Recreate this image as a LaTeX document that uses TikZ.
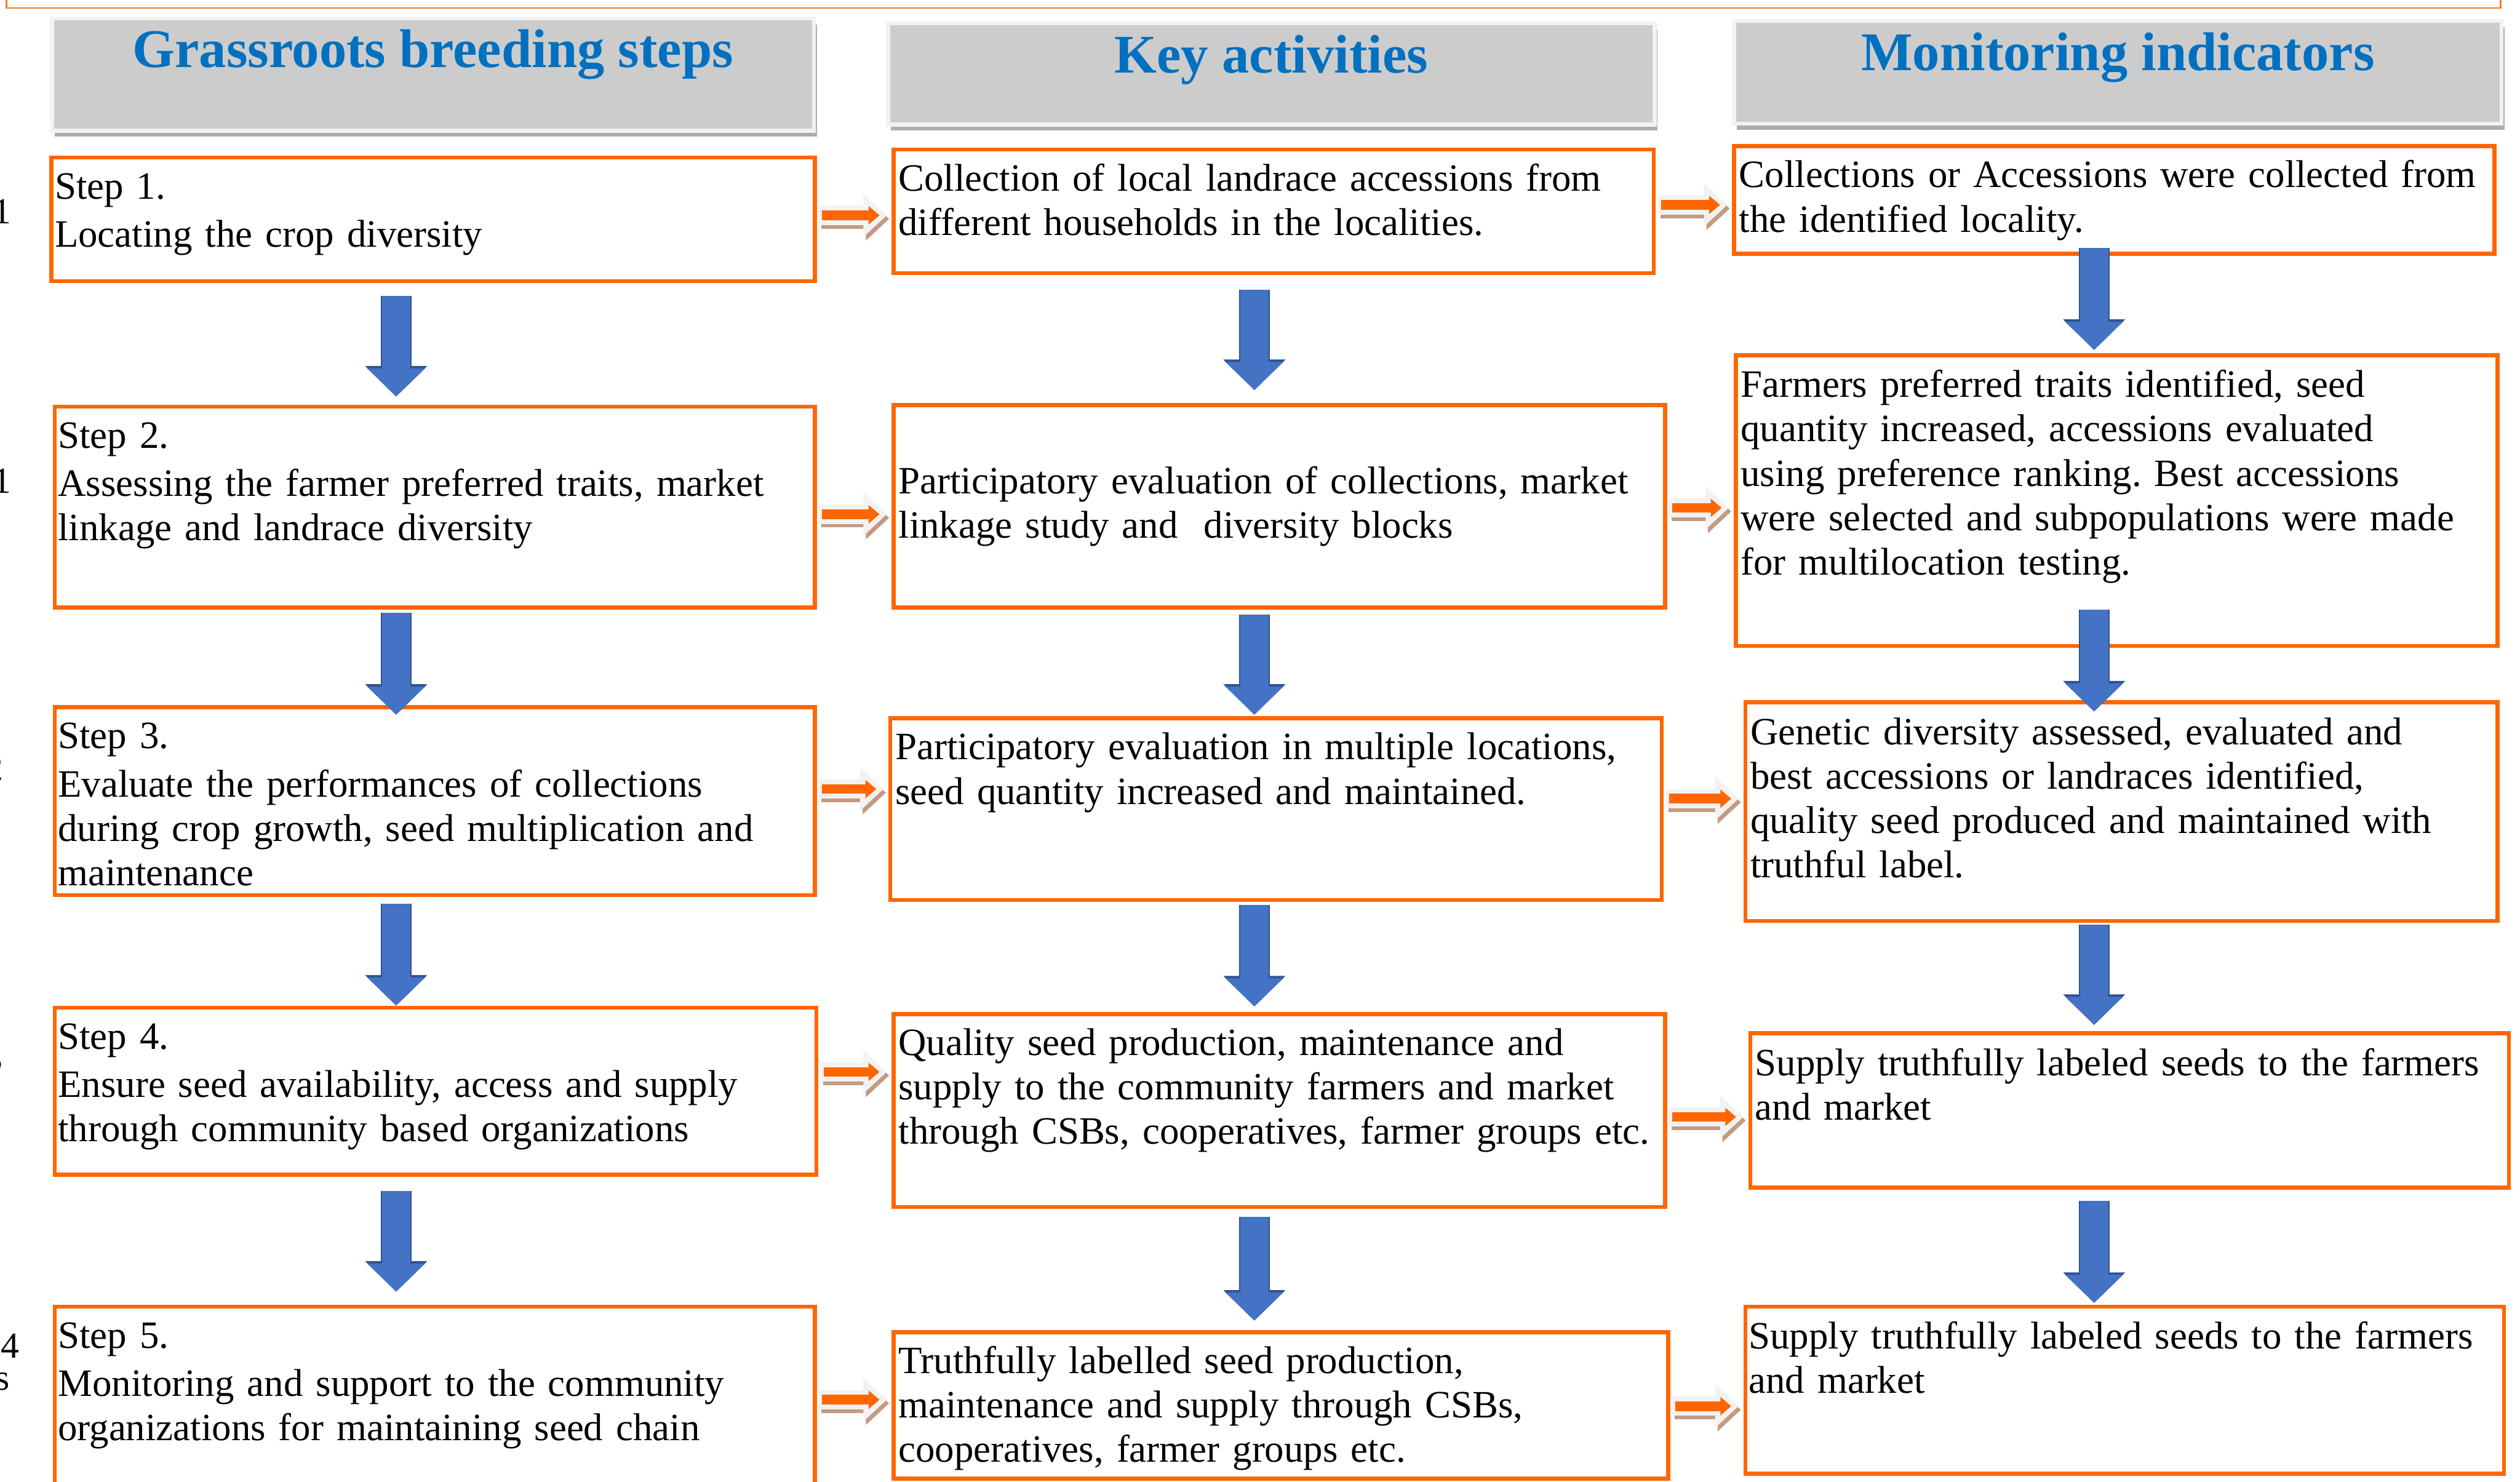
\documentclass[tikz,border=0pt]{standalone}
\usepackage{fontspec}
\setmainfont{Liberation Serif}
\usepackage{xcolor}
\usepackage{tikz}
\usetikzlibrary{arrows.meta,calc,fit}

\definecolor{boxorange}{HTML}{FF6600}
\definecolor{titleorange}{HTML}{ED7D31}
\definecolor{headblue}{HTML}{0070C0}
\definecolor{headgray}{HTML}{CCCCCC}
\definecolor{headrim}{HTML}{F2F2F2}
\definecolor{headshade}{HTML}{ADADAD}
\definecolor{flowblue}{HTML}{4472C4}
\definecolor{flowedge}{HTML}{2F528F}
\definecolor{linkrim}{HTML}{F2F2F2}
\definecolor{linktan}{HTML}{C49A80}

\frenchspacing

\begin{document}
\begin{tikzpicture}[x=0.2mm,y=-0.2mm]

        \tikzstyle{stepbox}=[draw=boxorange,line width=0.5mm,inner sep=0pt]
        \tikzstyle{headbox}=[fill=headgray,draw=headrim,line width=0.5mm,inner sep=0pt,
            preaction={fill=headshade,transform canvas={shift={(0.35mm,-0.75mm)}}}]
        \tikzstyle{headtext}=[anchor=base,inner sep=0pt,text=headblue,
            font=\fontsize{19.3pt}{22pt}\selectfont\bfseries]
        \tikzstyle{boxtext}=[anchor=base west,inner sep=0pt,text width=100mm,align=left,
            font=\fontsize{13.7pt}{15.7pt}\selectfont]
        \tikzstyle{fragtext}=[anchor=base east,inner sep=0pt,font=\fontsize{13pt}{13pt}\selectfont]
        \tikzstyle{flowarrow}=[draw=flowblue,line width=3.5mm,-{Triangle[width=7mm,length=3.5mm]},
            preaction={draw=flowedge,line width=3.8mm,-{Triangle[width=7.5mm,length=3.8mm]}}]
        \tikzstyle{linkarrow}=[draw=boxorange,line width=1.2mm,-{Triangle[width=2.2mm,length=1.35mm]},
            shorten <=0.64mm,shorten >=1.5mm,
            preaction={draw=linktan,line width=2.4mm,-{Triangle[width=5.2mm,length=2.9mm]},
                shorten <=0.28mm,shorten >=0.6mm,transform canvas={shift={(0.3mm,-0.45mm)}}},
            preaction={draw=linkrim,line width=2.4mm,-{Triangle[width=5.2mm,length=2.9mm]},
                shorten <=0.28mm,shorten >=0.6mm}]

        \useasboundingbox (0,0) rectangle (1568,922);
        \fill[white] (0,0) rectangle (1568,922);
        \clip (0,0) rectangle (1568,922);

        %% frame of the heading above (cut off)
        \draw[titleorange,line width=0.2mm] (4,-20) rectangle (1556,5);

        %% column headings
        \node[headbox,fit={(32.3,11.5) (506.5,81.4)}] (head1) {};
        \node[headbox,fit={(552.5,14.5) (1029.5,77.5)}] (head2) {};
        \node[headbox,fit={(1079,13) (1556.5,77)}] (head3) {};
        \node[headtext] at ($(head1.north)+(0,31.5)$) {Grassroots breeding steps};
        \node[headtext] at ($(head2.north)+(0,32)$) {Key activities};
        \node[headtext] at ($(head3.north)+(0,32)$) {Monitoring indicators};

        %% Steps
        \node[stepbox,fit={(32,98) (507,175)}] (step1) {};
        \node[stepbox,fit={(34,253) (507,378)}] (step2) {};
        \node[stepbox,fit={(34,440) (507,557)}] (step3) {};
        \node[stepbox,fit={(34,627) (508,731)}] (step4) {};
        \node[stepbox,fit={(34,813) (507,926)}] (step5) {};

        \node[boxtext] at ($(step1.north west)+(3,27)$) {Step 1.\\[0.5mm]
            Locating the crop diversity};
        \node[boxtext] at ($(step2.north west)+(3,27)$) {Step 2.\\[0.5mm]
            Assessing the farmer preferred traits, market\\
            linkage and landrace diversity};
        \node[boxtext] at ($(step3.north west)+(3,27)$) {Step 3.\\[0.5mm]
            Evaluate the performances of collections\\
            during crop growth, seed multiplication and\\
            maintenance};
        \node[boxtext] at ($(step4.north west)+(3,27)$) {Step 4.\\[0.5mm]
            Ensure seed availability, access and supply\\
            through community based organizations};
        \node[boxtext] at ($(step5.north west)+(3,27)$) {Step 5.\\[0.5mm]
            Monitoring and support to the community\\
            organizations for maintaining seed chain};

        %% Key activities
        \node[stepbox,fit={(556,93) (1029,170)}] (act1) {};
        \node[stepbox,fit={(556,252) (1036,378)}] (act2) {};
        \node[stepbox,fit={(554,447) (1034,560)}] (act3) {};
        \node[stepbox,fit={(556,631) (1036,751)}] (act4) {};
        \node[stepbox,fit={(556,829) (1038,920)}] (act5) {};

        \node[boxtext] at ($(act1.north west)+(4,27)$) {Collection of local landrace accessions from\\
            different households in the localities.};
        \node[boxtext] at ($(act2.north west)+(4,56.5)$) {Participatory evaluation of collections, market\\
            linkage study and \ diversity blocks};
        \node[boxtext] at ($(act3.north west)+(4,27)$) {Participatory evaluation in multiple locations,\\
            seed quantity increased and maintained.};
        \node[boxtext] at ($(act4.north west)+(4,27)$) {Quality seed production, maintenance and\\
            supply to the community farmers and market\\
            through CSBs, cooperatives, farmer groups etc.};
        \node[boxtext] at ($(act5.north west)+(4,27)$) {Truthfully labelled seed production,\\
            maintenance and supply through CSBs,\\
            cooperatives, farmer groups etc.};

        %% Monitoring indicators
        \node[stepbox,fit={(1079,91) (1552,158)}] (ind1) {};
        \node[stepbox,fit={(1080,221) (1554,402)}] (ind2) {};
        \node[stepbox,fit={(1086,437) (1554,573)}] (ind3) {};
        \node[stepbox,fit={(1089,643) (1561,739)}] (ind4) {};
        \node[stepbox,fit={(1086,813) (1558,917)}] (ind5) {};

        \node[boxtext] at ($(ind1.north west)+(4,27)$) {Collections or Accessions were collected from\\
            the identified locality.};
        \node[boxtext] at ($(ind2.north west)+(4,27.5)$) {Farmers preferred traits identified, seed\\
            quantity increased, accessions evaluated\\
            using preference ranking. Best accessions\\
            were selected and subpopulations were made\\
            for multilocation testing.};
        \node[boxtext] at ($(ind3.north west)+(4,27.5)$) {Genetic diversity assessed, evaluated and\\
            best accessions or landraces identified,\\
            quality seed produced and maintained with\\
            truthful label.};
        \node[boxtext] at ($(ind4.north west)+(4,27.5)$) {Supply truthfully labeled seeds to the farmers\\
            and market};
        \node[boxtext] at ($(ind5.north west)+(3,27.5)$) {Supply truthfully labeled seeds to the farmers\\
            and market};

        %% cut off labels at the left edge
        \node[fragtext] (edge1) at (7.5,139) {1};
        \node[fragtext] (edge2) at (7.5,307) {1};
        \node[fragtext] (edge3) at (2.5,485.5) {2};
        \node[fragtext] (edge4) at (2,666.5) {3};
        \node[fragtext] (edge5) at (12.5,845) {4};
        \node[fragtext] (edge6) at (6.5,865) {s};

        %% down arrows
        \coordinate (laneA) at (246.5,0);
        \coordinate (laneB) at (780.5,0);
        \coordinate (laneC) at (1303,0);
        \foreach \a/\b/\lane/\p/\q in {step1/step2/laneA/8/-5, step2/step3/laneA/2/6,
                step3/step4/laneA/4/0, step4/step5/laneA/9/-8,
                act1/act2/laneB/9/-8, act2/act3/laneB/3/-1,
                act3/act4/laneB/2/-3.5, act4/act5/laneB/5/-6,
                ind1/ind2/laneC/-5/-2, ind2/ind3/laneC/-24/7,
                ind3/ind4/laneC/1/-4, ind4/ind5/laneC/7/-1}
            \draw[flowarrow] ($(\a.south -| \lane)+(0,\p)$) -- ($(\b.north -| \lane)+(0,\q)$);

        %% right arrows
        \foreach \a/\b/\y in {step1/act1/134, step2/act2/320, step3/act3/491,
                step4/act4/667, step5/act5/871,
                act1/ind1/127.5, act2/ind2/316, act3/ind3/497,
                act4/ind4/695, act5/ind5/875}
            \draw[linkarrow] (\a.east |- 0,\y) -- (\b.west |- 0,\y);

\end{tikzpicture}
\end{document}
